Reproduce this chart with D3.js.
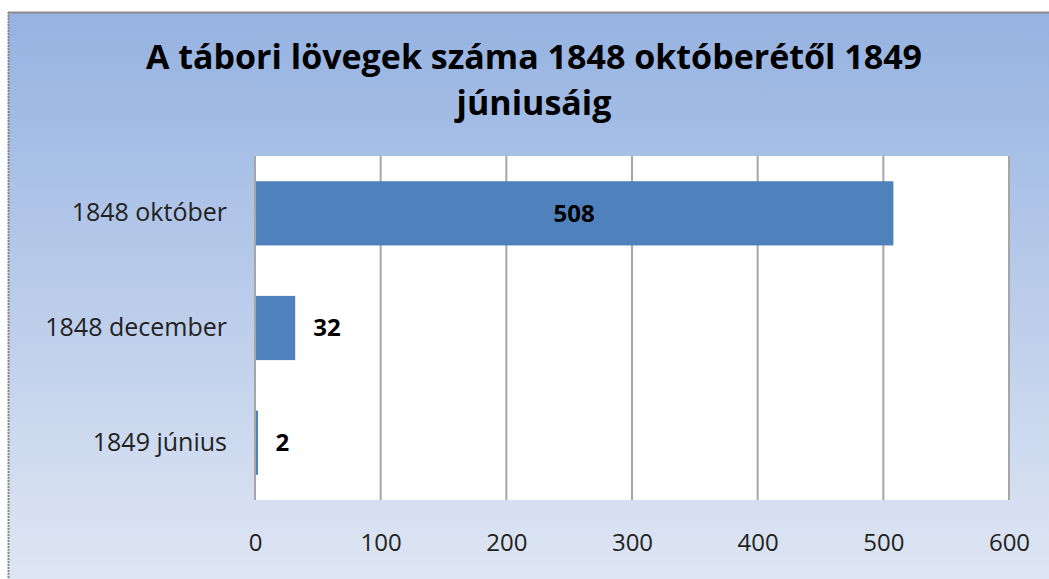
<!DOCTYPE html>
<html>
<head>
<meta charset="utf-8">
<script src="https://cdn.jsdelivr.net/npm/d3@7"></script>
<style>
  body { margin: 0; background: #fff; }
  text { font-family: "Open Sans", sans-serif; }
</style>
</head>
<body>
<div id="chart"></div>
<script>
// data
var categories = ["1848 október", "1848 december", "1849 június"];
var values = [508, 32, 2];
var xTicks = [0, 100, 200, 300, 400, 500, 600];
var titleLines = ["A tábori lövegek száma 1848 októberétől 1849", "júniusáig"];

var W = 1049, H = 579;
var plot = {left: 255, top: 156, right: 1009, bottom: 500};

var svg = d3.select("#chart").append("svg")
  .attr("width", W).attr("height", H);

// chart area gradient
var grad = svg.append("defs").append("linearGradient")
  .attr("id", "bg").attr("x1", 0).attr("y1", 0).attr("x2", 0).attr("y2", 1);
grad.append("stop").attr("offset", "0%").attr("stop-color", "#95b2e1");
grad.append("stop").attr("offset", "100%").attr("stop-color", "#dfe6f3");

svg.append("rect")
  .attr("x", 8).attr("y", 12).attr("width", W - 8).attr("height", H - 12)
  .attr("fill", "url(#bg)");
// frame edges (top + left only visible)
svg.append("line").attr("x1", 8).attr("x2", W).attr("y1", 12.5).attr("y2", 12.5)
  .attr("stroke", "#8a8a8a").attr("stroke-width", 2);
svg.append("line").attr("x1", 8.5).attr("x2", 8.5).attr("y1", 12).attr("y2", H)
  .attr("stroke", "#8a8a8a").attr("stroke-width", 2).attr("stroke-dasharray", "2,1");

// scales
var x = d3.scaleLinear().domain([0, 600]).range([plot.left, plot.right]);
var y = d3.scaleBand().domain(categories).range([plot.top, plot.bottom])
  .paddingInner(0.44).paddingOuter(0.22);

// plot area
svg.append("rect")
  .attr("x", plot.left).attr("y", plot.top)
  .attr("width", plot.right - plot.left).attr("height", plot.bottom - plot.top)
  .attr("fill", "#fff");

// gridlines
svg.append("g").selectAll("line")
  .data(xTicks)
  .enter().append("line")
    .attr("x1", function(d) { return x(d); })
    .attr("x2", function(d) { return x(d); })
    .attr("y1", plot.top).attr("y2", plot.bottom)
    .attr("stroke", "#a6a6a6").attr("stroke-width", 2);

// bars
svg.append("g").selectAll("rect")
  .data(values)
  .enter().append("rect")
    .attr("x", x(0) + 1)
    .attr("y", function(d, i) { return y(categories[i]); })
    .attr("width", function(d) { return Math.max(x(d) - x(0) - 1, 2); })
    .attr("height", y.bandwidth())
    .attr("fill", "#4f81bd");

// value labels
svg.append("g").selectAll("text")
  .data(values)
  .enter().append("text")
    .attr("x", function(d) { return d > 100 ? (x(0) + x(d)) / 2 : x(d) + 18; })
    .attr("y", function(d, i) { return y(categories[i]) + y.bandwidth() / 2; })
    .attr("dy", "0.35em")
    .attr("text-anchor", function(d) { return d > 100 ? "middle" : "start"; })
    .attr("font-size", 24).attr("font-weight", "bold").attr("fill", "#000")
    .text(function(d) { return d; });

// x axis labels
var xAxis = d3.axisBottom(x).tickValues(xTicks).tickSize(0).tickPadding(0);
svg.append("g")
  .attr("transform", "translate(0," + (plot.bottom + 34) + ")")
  .call(xAxis)
  .call(function(g) { g.select(".domain").remove(); })
  .selectAll("text")
    .attr("font-size", 24).attr("fill", "#222")
    .style("font-family", "'Open Sans', sans-serif");

// y axis labels
var yAxis = d3.axisLeft(y).tickSize(0).tickPadding(0);
svg.append("g")
  .attr("transform", "translate(" + (plot.left - 28) + ",0)")
  .call(yAxis)
  .call(function(g) { g.select(".domain").remove(); })
  .selectAll("text")
    .attr("font-size", 25).attr("fill", "#222")
    .style("font-family", "'Open Sans', sans-serif");

// title
svg.append("g").selectAll("text")
  .data(titleLines)
  .enter().append("text")
    .attr("x", 534)
    .attr("y", function(d, i) { return 57 + i * 46; })
    .attr("dy", "0.35em")
    .attr("text-anchor", "middle")
    .attr("font-size", 34).attr("font-weight", "bold").attr("fill", "#000")
    .text(function(d) { return d; });
</script>
</body>
</html>
